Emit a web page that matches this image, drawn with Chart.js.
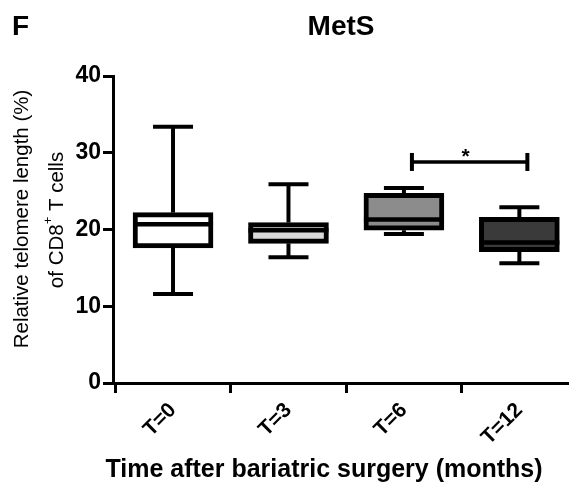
<!DOCTYPE html>
<html>
<head>
  <meta charset="UTF-8">
  <title>MetS</title>
  <style>
    body {
      margin: 0;
      background: #fff;
    }
    #wrap {
      width: 569px;
      height: 488px;
    }
  </style>
  <script src="https://cdn.jsdelivr.net/npm/chart.js"></script>
</head>
<body>
  <div id="wrap"><canvas id="chart" width="569" height="488"></canvas></div>

  <script>
    // box plot values
    const groups = ['T=0', 'T=3', 'T=6', 'T=12'];
    const whiskerMin = [11.6, 16.4, 19.4, 15.6];
    const q1 = [17.6, 18.2, 19.9, 17.1];
    const median = [20.7, 19.9, 21.3, 18.3];
    const q3 = [22.2, 20.9, 24.7, 21.6];
    const whiskerMax = [33.4, 25.9, 25.4, 22.9];
    const boxColors = ['#ffffff', '#d9d9d9', '#8c8c8c', '#3a3a3a'];
    const yTicks = [0, 10, 20, 30, 40];

    // significance bracket T=6 vs T=12
    const sigPair = [2, 3];
    const sigLevel = 28.8;
    const sigLabel = '*';

    const FONT = "'Liberation Sans', Arial, Helvetica, sans-serif";
    Chart.defaults.font.family = FONT;
    Chart.defaults.color = '#000';

    function line(ctx, x1, y1, x2, y2) {
      ctx.beginPath();
      ctx.moveTo(x1, y1);
      ctx.lineTo(x2, y2);
      ctx.stroke();
    }

    // whiskers behind the boxes, medians + bracket on top
    const boxPlot = {
      id: 'boxPlot',
      beforeDatasetsDraw(chart) {
        const { ctx, scales: { x, y } } = chart;
        ctx.save();
        ctx.strokeStyle = '#000';
        ctx.lineWidth = 4;
        groups.forEach((g, i) => {
          const cx = x.getPixelForValue(i);
          const yMax = y.getPixelForValue(whiskerMax[i]);
          const yMin = y.getPixelForValue(whiskerMin[i]);
          line(ctx, cx, yMax, cx, y.getPixelForValue(q3[i]));
          line(ctx, cx, y.getPixelForValue(q1[i]), cx, yMin);
          line(ctx, cx - 20, yMax, cx + 20, yMax);
          line(ctx, cx - 20, yMin, cx + 20, yMin);
        });
        ctx.restore();
      },
      afterDatasetsDraw(chart) {
        const { ctx, scales: { x, y } } = chart;
        const bars = chart.getDatasetMeta(0).data;
        ctx.save();
        ctx.strokeStyle = '#000';
        ctx.lineWidth = 4.5;
        bars.forEach((bar, i) => {
          const ym = y.getPixelForValue(median[i]);
          line(ctx, bar.x - bar.width / 2, ym, bar.x + bar.width / 2, ym);
        });

        // bracket
        const xa = x.getPixelForValue(sigPair[0]) + 8;
        const xb = x.getPixelForValue(sigPair[1]) + 8;
        const yb = y.getPixelForValue(sigLevel);
        ctx.lineWidth = 3.5;
        line(ctx, xa, yb, xb, yb);
        ctx.lineWidth = 4;
        line(ctx, xa, yb - 9, xa, yb + 9);
        line(ctx, xb, yb - 9, xb, yb + 9);
        ctx.fillStyle = '#000';
        ctx.font = 'bold 21px ' + FONT;
        ctx.textAlign = 'center';
        ctx.textBaseline = 'middle';
        ctx.fillText(sigLabel, (xa + xb) / 2 - 4, yb - 5);
        ctx.restore();
      }
    };

    // panel letter, title and axis titles
    const titles = {
      id: 'titles',
      afterDraw(chart) {
        const { ctx, chartArea } = chart;
        ctx.save();
        ctx.fillStyle = '#000';
        ctx.textBaseline = 'middle';

        ctx.font = 'bold 28px ' + FONT;
        ctx.textAlign = 'left';
        ctx.fillText('F', 12, 27);
        ctx.textAlign = 'center';
        ctx.fillText('MetS', (chartArea.left + chartArea.right) / 2, 27);

        ctx.font = 'bold 25px ' + FONT;
        ctx.fillText('Time after bariatric surgery (months)', 324, 470);

        // rotated y title, two lines
        ctx.save();
        ctx.translate(22, 219);
        ctx.rotate(-Math.PI / 2);
        ctx.font = '20.5px ' + FONT;
        ctx.fillText('Relative telomere length (%)', 0, 0);
        ctx.restore();

        ctx.save();
        ctx.translate(57, 220);
        ctx.rotate(-Math.PI / 2);
        ctx.font = '20.5px ' + FONT;
        const a = 'of CD8', b = '+', c = ' T cells';
        const wa = ctx.measureText(a).width;
        const wc = ctx.measureText(c).width;
        ctx.font = '13px ' + FONT;
        const wb = ctx.measureText(b).width;
        const sx = -(wa + wb + wc) / 2;
        ctx.textAlign = 'left';
        ctx.font = '20.5px ' + FONT;
        ctx.fillText(a, sx, 0);
        ctx.font = '13px ' + FONT;
        ctx.fillText(b, sx + wa, -9);
        ctx.font = '20.5px ' + FONT;
        ctx.fillText(c, sx + wa + wb, 0);
        ctx.restore();

        ctx.restore();
      }
    };

    const ctx = document.getElementById('chart').getContext('2d');
    new Chart(ctx, {
      type: 'bar',
      data: {
        datasets: [{
          data: groups.map((g, i) => ({ x: i, y: [q1[i], q3[i]] })),
          backgroundColor: boxColors,
          borderColor: '#000',
          borderWidth: 5,
          borderSkipped: false,
          barThickness: 80
        }]
      },
      options: {
        responsive: false,
        animation: false,
        devicePixelRatio: 1,
        layout: { padding: { top: 76, right: 0, bottom: 0, left: 0 } },
        plugins: {
          legend: { display: false },
          tooltip: { enabled: false }
        },
        scales: {
          x: {
            type: 'linear',
            min: -0.52,
            max: 3.43,
            offset: false,
            afterBuildTicks: s => { s.ticks = groups.map((g, i) => ({ value: i })); },
            afterFit: s => { s.height = 105; },
            ticks: {
              callback: v => groups[v],
              autoSkip: false,
              maxRotation: 45,
              minRotation: 45,
              padding: 5,
              color: '#000',
              font: { size: 21, weight: 'bold' }
            },
            grid: { drawOnChartArea: false, color: '#000', lineWidth: 3, tickLength: 10 },
            border: { color: '#000', width: 3 }
          },
          y: {
            min: 0,
            max: 40,
            afterBuildTicks: s => { s.ticks = yTicks.map(v => ({ value: v })); },
            afterFit: s => { s.width = 113; },
            ticks: {
              padding: 2,
              color: '#000',
              font: { size: 23, weight: 'bold' }
            },
            grid: { drawOnChartArea: false, color: '#000', lineWidth: 3, tickLength: 10 },
            border: { color: '#000', width: 3 }
          }
        }
      },
      plugins: [boxPlot, titles]
    });
  </script>
</body>
</html>
